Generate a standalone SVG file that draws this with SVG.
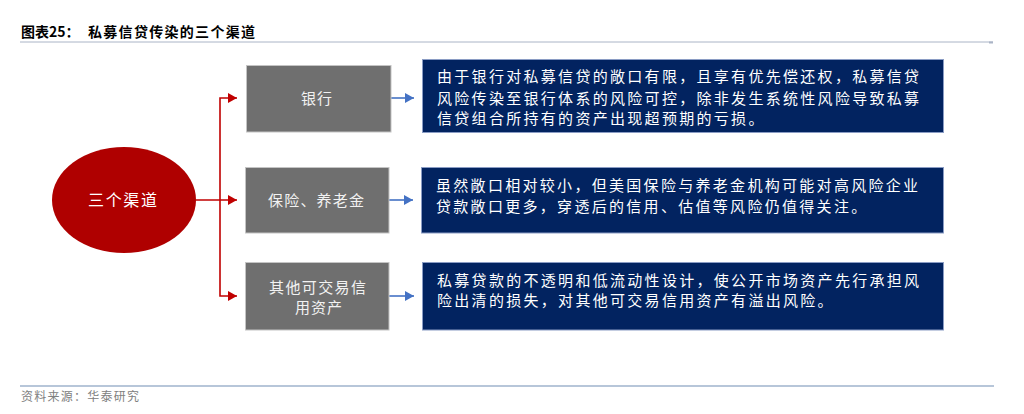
<svg xmlns="http://www.w3.org/2000/svg" width="1024" height="414" viewBox="0 0 1024 414">
<style>
  .cjk { font-family: "Noto Sans CJK SC", "Noto Sans", sans-serif; }
  .title { font-size: 14px; font-weight: bold; fill: #000000; }
  .gray-box { fill: #6f6f6f; stroke: #c4c4c4; stroke-width: 1; }
  .blue-box { fill: #022360; stroke: #8a9cc4; stroke-width: 1; }
  .gtext { font-size: 15px; fill: #f2f2f2; }
  .btext { font-size: 15px; fill: #ffffff; letter-spacing: 2.3px; }
  .red { stroke: #c00000; stroke-width: 1.6; fill: none; }
  .blue { stroke: #4472c4; stroke-width: 1.6; fill: none; }
  .foot { font-size: 12px; fill: #808080; }
</style>
<defs>
  <marker id="arrRed" markerUnits="userSpaceOnUse" markerWidth="10" markerHeight="10" refX="9" refY="5" orient="auto">
    <path d="M0,0 L9,5 L0,10 Z" fill="#c00000"/>
  </marker>
  <marker id="arrBlue" markerUnits="userSpaceOnUse" markerWidth="10" markerHeight="10" refX="9" refY="5" orient="auto">
    <path d="M0,0 L9,5 L0,10 Z" fill="#4472c4"/>
  </marker>
</defs>

<g id="header">
  <text class="cjk title" x="21" y="37">图表25：</text>
  <text class="cjk title" x="88" y="37" textLength="167" lengthAdjust="spacing">私募信贷传染的三个渠道</text>
  <line x1="20" y1="42" x2="993" y2="42" stroke="#aab4c6" stroke-width="1"/>
  <line x1="989" y1="42.5" x2="993" y2="42.5" stroke="#aab4c6" stroke-width="2"/>
</g>

<g id="connectors">
  <path class="red" d="M196,200 H237" marker-end="url(#arrRed)"/>
  <path class="red" d="M220,200 V98 H237" marker-end="url(#arrRed)"/>
  <path class="red" d="M220,200 V296 H237" marker-end="url(#arrRed)"/>
  <path class="blue" d="M391,98 H414" marker-end="url(#arrBlue)"/>
  <path class="blue" d="M389,200 H413" marker-end="url(#arrBlue)"/>
  <path class="blue" d="M389,296 H414" marker-end="url(#arrBlue)"/>
</g>

<g id="node-center">
  <ellipse cx="124" cy="200" rx="72" ry="53" fill="#af0000"/>
  <text class="cjk" x="88" y="206" font-size="16" fill="#ffffff" textLength="69" lengthAdjust="spacing">三个渠道</text>
</g>

<g id="node-bank">
  <rect class="gray-box" x="246.5" y="65.5" width="144.5" height="66.5"/>
  <text class="cjk gtext" x="301" y="103.5" textLength="31" lengthAdjust="spacing">银行</text>
</g>

<g id="node-insurance">
  <rect class="gray-box" x="245.5" y="167.5" width="143.5" height="65.5"/>
  <text class="cjk gtext" x="268" y="205.5" textLength="96" lengthAdjust="spacing">保险、养老金</text>
</g>

<g id="node-other">
  <rect class="gray-box" x="245.5" y="262.5" width="143.5" height="67.5"/>
  <text class="cjk gtext" x="269" y="292.5" textLength="97" lengthAdjust="spacing">其他可交易信</text>
  <text class="cjk gtext" x="295" y="312.5" textLength="47" lengthAdjust="spacing">用资产</text>
</g>

<g id="desc-bank">
  <rect class="blue-box" x="422.5" y="59.5" width="521" height="73"/>
  <text class="cjk btext" x="437" y="82.4">由于银行对私募信贷的敞口有限，且享有优先偿还权，私募信贷</text>
  <text class="cjk btext" x="437" y="103.8">风险传染至银行体系的风险可控，除非发生系统性风险导致私募</text>
  <text class="cjk btext" x="437" y="124">信贷组合所持有的资产出现超预期的亏损。</text>
</g>

<g id="desc-insurance">
  <rect class="blue-box" x="421.5" y="167.5" width="522" height="65.5"/>
  <text class="cjk btext" x="436" y="190.7">虽然敞口相对较小，但美国保险与养老金机构可能对高风险企业</text>
  <text class="cjk btext" x="436" y="211.7">贷款敞口更多，穿透后的信用、估值等风险仍值得关注。</text>
</g>

<g id="desc-other">
  <rect class="blue-box" x="422.5" y="262.5" width="521" height="67.5"/>
  <text class="cjk btext" x="437" y="285.7">私募贷款的不透明和低流动性设计，使公开市场资产先行承担风</text>
  <text class="cjk btext" x="437" y="305.7">险出清的损失，对其他可交易信用资产有溢出风险。</text>
</g>

<g id="footer">
  <line x1="20" y1="386" x2="994" y2="386" stroke="#9fb3cc" stroke-width="1.6"/>
  <text class="cjk foot" x="21" y="400.5" textLength="118" lengthAdjust="spacing">资料来源：华泰研究</text>
</g>
</svg>
